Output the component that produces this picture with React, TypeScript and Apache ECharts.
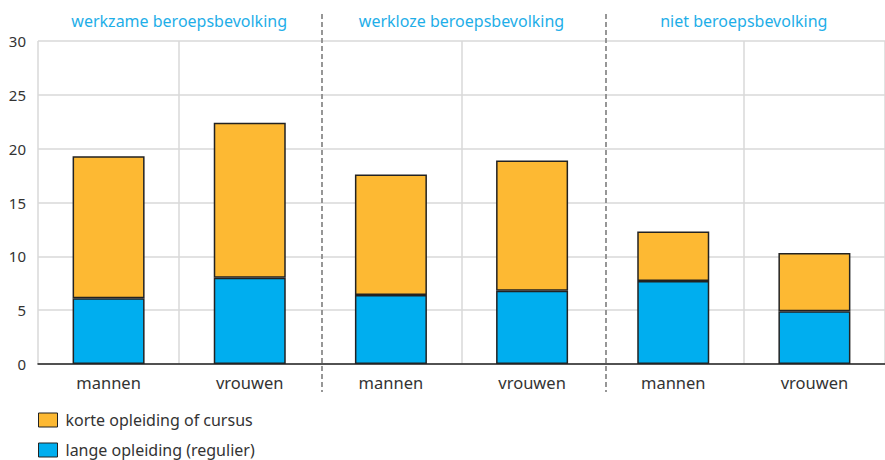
import React, { useEffect, useRef } from "react";
import * as echarts from "echarts";

const categories = ["mannen", "vrouwen", "mannen", "vrouwen", "mannen", "vrouwen"];
const groups = ["werkzame beroepsbevolking", "werkloze beroepsbevolking", "niet beroepsbevolking"];
const langeOpleiding = [6.1, 8.0, 6.4, 6.8, 7.7, 4.9];
const korteOpleiding = [13.2, 14.4, 11.2, 12.1, 4.6, 5.4];
const seriesNames = ["lange opleiding (regulier)", "korte opleiding of cursus"];
const yTicks = { min: 0, max: 30, interval: 5 };

const FONT = "'Noto Sans', sans-serif";
const GRID = { left: 38, top: 41, width: 852, height: 323 };

export default function App() {
  const ref = useRef<HTMLDivElement>(null);
  useEffect(() => {
    if (!ref.current) return;
    const chart = echarts.init(ref.current, undefined, { renderer: "svg" });
    const sepX = [2, 4].map((k) => GRID.left + (GRID.width * k) / categories.length);
    chart.setOption({
      animation: false,
      textStyle: { fontFamily: FONT },
      grid: { left: GRID.left, top: GRID.top, width: GRID.width, height: GRID.height, containLabel: false },
      legend: {
        orient: "vertical",
        left: 38,
        top: 412,
        height: 80,
        padding: 0,
        itemWidth: 19,
        itemHeight: 14,
        itemGap: 14,
        icon: "rect",
        data: [seriesNames[1], seriesNames[0]],
        textStyle: { fontSize: 16, color: "#333", fontFamily: FONT, padding: [0, 0, 0, 3] },
        itemStyle: { borderColor: "#222", borderWidth: 1 },
      },
      xAxis: [
        {
          type: "category",
          data: categories,
          position: "bottom",
          axisLine: { lineStyle: { color: "#222", width: 1.5 } },
          axisTick: { alignWithLabel: true, length: 6, lineStyle: { color: "#222" } },
          axisLabel: { fontSize: 16.5, color: "#333", margin: 10, fontFamily: FONT },
          splitLine: {
            show: true,
            interval: (i: number) => i !== 2 && i !== 4,
            lineStyle: { color: "#d9d9d9", width: 1.5 },
          },
        },
        {
          type: "category",
          data: groups,
          position: "top",
          axisLine: { show: false },
          axisTick: { show: false },
          axisLabel: { fontSize: 16, color: "#1EAEE8", margin: 12, fontFamily: FONT },
          splitLine: { show: false },
        },
      ],
      yAxis: {
        type: "value",
        min: yTicks.min,
        max: yTicks.max,
        interval: yTicks.interval,
        axisLine: { show: false },
        axisTick: { show: false },
        axisLabel: { fontSize: 15, color: "#333", margin: 12, fontFamily: FONT },
        splitLine: { lineStyle: { color: "#d9d9d9", width: 1.5 } },
      },
      series: [
        {
          name: seriesNames[0],
          type: "bar",
          stack: "total",
          data: langeOpleiding,
          barWidth: 72,
          itemStyle: { color: "#00AEEF", borderColor: "#222", borderWidth: 1.5 },
        },
        {
          name: seriesNames[1],
          type: "bar",
          stack: "total",
          data: korteOpleiding,
          barWidth: 72,
          itemStyle: { color: "#FDB933", borderColor: "#222", borderWidth: 1.5 },
        },
      ],
      graphic: sepX.map((x) => ({
        type: "line",
        shape: { x1: x, y1: 14, x2: x, y2: 392 },
        style: { stroke: "#8c8c8c", lineWidth: 1.8, lineDash: [5, 3] },
        z: 10,
      })),
    });
    return () => chart.dispose();
  }, []);
  return (
    <div
      ref={ref}
      style={{ position: "absolute", left: 0, top: 0, width: 885, height: 460 }}
    />
  );
}
